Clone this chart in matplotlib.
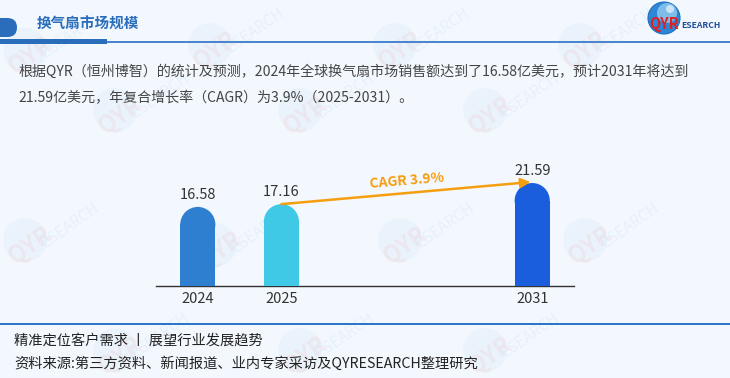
import matplotlib
matplotlib.use("Agg")
import matplotlib.pyplot as plt
from matplotlib.patches import Ellipse, FancyBboxPatch, Rectangle

plt.rcParams['font.family'] = ['Noto Sans CJK SC', 'DejaVu Sans']

# ---- data ----
years = ["2024", "2025", "2031"]
positions = [0, 1, 4]
values = [16.58, 17.16, 21.59]
bar_colors = ["#2f7fd1", "#40c9e6", "#1a5ede"]
cagr_label = "CAGR 3.9%"
title = "换气扇市场规模"
para_lines = [
    "根据QYR（恒州博智）的统计及预测，2024年全球换气扇市场销售额达到了16.58亿美元，预计2031年将达到",
    "21.59亿美元，年复合增长率（CAGR）为3.9%（2025-2031）。",
]
footer1 = "精准定位客户需求 丨 展望行业发展趋势"
footer2 = "资料来源:第三方资料、新闻报道、业内专家采访及QYRESEARCH整理研究"

W, H = 730, 378
BG = "#f3f8fe"
fig = plt.figure(figsize=(W / 100, H / 100), dpi=100, facecolor=BG)


def fx(px):
    return px / W


def fy(py):
    return 1 - py / H


def circ(x, y, r, **kw):
    return Ellipse((fx(x), fy(y)), 2 * r / W, 2 * r / H, transform=fig.transFigure, **kw)


# ---- faint watermarks (behind everything) ----
wm_pts = [(25, 50), (210, 45), (395, 45), (580, 45),
          (115, 110), (300, 110), (485, 110),
          (25, 240), (215, 245), (400, 240), (585, 240),
          (115, 350), (300, 350), (485, 350)]
for (x, y) in wm_pts:
    fig.patches.append(circ(x, y, 22, facecolor="#dcecf8", edgecolor="none", alpha=0.35, zorder=-2))
    fig.text(fx(x + 5), fy(y + 5), "QYR", color="#f0cdd3", fontsize=17, fontweight="bold",
             rotation=35, ha="center", va="center", alpha=0.3, zorder=-1)
    fig.text(fx(x + 45), fy(y - 15), "ESEARCH", color="#d3e5f3", fontsize=11,
             rotation=35, ha="center", va="center", alpha=0.4, zorder=-1)

# ---- header ----
fig.patches.append(FancyBboxPatch((fx(-20), fy(37)), fx(37), fy(18) - fy(37),
                                  boxstyle="round,pad=0,rounding_size=0.013",
                                  transform=fig.transFigure, facecolor="#2a6ebb",
                                  edgecolor="none", zorder=2, mutation_aspect=W / H))
fig.patches.append(Rectangle((0, fy(44)), fx(107), fy(39) - fy(44), transform=fig.transFigure,
                             facecolor="#2a6ebb", edgecolor="none", zorder=2))
fig.patches.append(Rectangle((fx(107), fy(42.8)), 1 - fx(107), fy(41.2) - fy(42.8),
                             transform=fig.transFigure, facecolor="#4a86cf",
                             edgecolor="none", zorder=2))
fig.text(fx(37), fy(24), title, color="#2a6ebb", fontsize=10.5, fontweight="bold",
         ha="left", va="center")

# logo
fig.patches.append(circ(664, 18, 16, facecolor="#2f86d6", edgecolor="#1f6fbf", lw=0.8, zorder=3))
fig.patches.append(circ(667, 13, 10, facecolor="#9ad0f2", edgecolor="none", zorder=3, alpha=0.75))
fig.patches.append(circ(670, 9, 4, facecolor="#ffffff", edgecolor="none", zorder=3, alpha=0.6))
fig.text(fx(649), fy(24), "QYR", color="#e02020", fontsize=10.5, fontweight="bold",
         ha="left", va="center", zorder=4)
fig.text(fx(681), fy(25), "ESEARCH", color="#1f4f9a", fontsize=6.2, fontweight="bold",
         ha="left", va="center", zorder=4)

# ---- paragraph ----
fig.text(fx(18), fy(72), para_lines[0], color="#444444", fontsize=10.1, ha="left", va="center")
fig.text(fx(18), fy(98), para_lines[1], color="#444444", fontsize=10.1, ha="left", va="center")

# ---- chart ----
ax_left, ax_right, ax_bottom, ax_top = 156, 574, 286, 130
ax = fig.add_axes([fx(ax_left), fy(ax_bottom), fx(ax_right - ax_left), fy(ax_top) - fy(ax_bottom)])
ax.set_facecolor("none")
ax.set_xlim(-0.5, 4.5)
px_per_unit = 4.77
ax.set_ylim(0, (ax_bottom - ax_top) / px_per_unit)
for s in ["top", "right", "left"]:
    ax.spines[s].set_visible(False)
ax.spines["bottom"].set_color("#333333")
ax.spines["bottom"].set_linewidth(1.0)
ax.set_yticks([])
ax.set_xticks(positions)
ax.set_xticklabels(years, fontsize=10.5, color="#333333")
ax.tick_params(axis="x", length=0, pad=4)

bw = 0.42
ry = (bw / 2) * (83.6 / px_per_unit)  # semicircle radius in y data units
for p, v, c in zip(positions, values, bar_colors):
    ax.bar(p, v - ry, width=bw, color=c, edgecolor="none", zorder=3)
    ax.add_patch(Ellipse((p, v - ry), bw, 2 * ry, facecolor=c, edgecolor="none", zorder=3))
    ax.text(p, v + 1.1, f"{v:.2f}", ha="center", va="bottom", fontsize=10.5, color="#333333")

# CAGR arrow
ax.annotate("", xy=(positions[2] - 0.02, values[2] + 0.2), xytext=(positions[1], values[1]),
            arrowprops=dict(arrowstyle="-|>", color="#f59e0f", lw=1.8,
                            mutation_scale=14, shrinkA=0, shrinkB=0), zorder=5)
ax.text(2.5, values[2] + 0.4, cagr_label, color="#f59e0f", fontsize=10, fontweight="bold",
        ha="center", va="center", rotation=4.8, zorder=5)

# ---- footer ----
fig.patches.append(Rectangle((0, fy(324.8)), 1, fy(323.4) - fy(324.8), transform=fig.transFigure,
                             facecolor="#2e75c6", edgecolor="none", zorder=2))
fig.text(fx(14), fy(341), footer1, color="#222222", fontsize=10.25, ha="left", va="center")
fig.text(fx(14), fy(364), footer2, color="#222222", fontsize=10.25, ha="left", va="center")

fig.savefig("out.png", dpi=100, facecolor=BG)
